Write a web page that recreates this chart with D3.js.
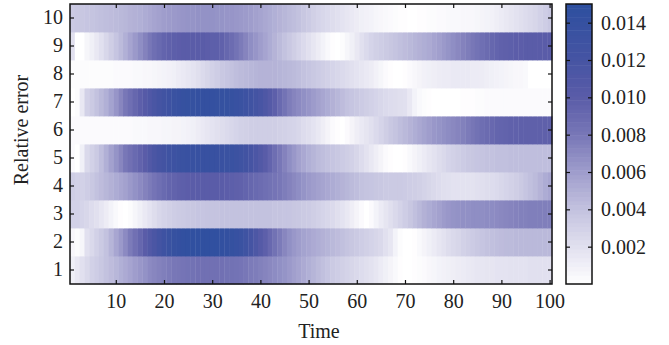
<!DOCTYPE html>
<html>
<head>
<meta charset="utf-8">
<script src="https://cdn.jsdelivr.net/npm/d3@7"></script>
<style>
  body { margin: 0; background: #fff; }
  svg { display: block; }
  .axis text { font-family: "Liberation Serif", "DejaVu Serif", serif; font-size: 20px; fill: #222; }
  .label { font-family: "Liberation Serif", "DejaVu Serif", serif; font-size: 20px; fill: #222; }
</style>
</head>
<body>
<svg id="chart" width="669" height="345"></svg>
<script>
// relative error rows (1 at bottom), values in units of 1e-3, time steps 1..100
const rowNames = [1, 2, 3, 4, 5, 6, 7, 8, 9, 10];
const timeSteps = d3.range(1, 101);
const xTicks = [10, 20, 30, 40, 50, 60, 70, 80, 90, 100];
const cbTicks = [2, 4, 6, 8, 10, 12, 14];

const row1 = [1.0,1.5,2.0,2.5,3.0,3.3,3.6,4.0,4.3,4.6, 5.0,5.3,5.6,6.0,6.3,6.6,7.0,7.2,7.4,7.6,
  7.8,8.0,8.1,8.2,8.3,8.4,8.5,8.5,8.5,8.5, 8.5,8.5,8.4,8.4,8.3,8.2,8.0,7.8,7.7,7.5,
  7.3,7.1,6.9,6.7,6.5,6.2,5.9,5.6,5.3,5.0, 4.7,4.4,4.1,3.8,3.5,3.3,3.1,2.9,2.7,2.5,
  2.3,2.1,1.9,1.6,1.3,1.0,0.7,0.4,0.1,0.0, 0.0,0.1,0.2,0.3,0.5,0.6,0.8,0.9,1.0,1.1,
  1.2,1.3,1.4,1.5,1.6,1.6,1.7,1.7,1.8,1.8, 1.8,1.9,1.9,1.9,1.9,2.0,2.0,2.0,2.0,2.0];
const row2 = [0.5,0.2,0.6,2.0,2.5,3.0,3.5,4.0,4.7,5.5, 6.2,7.0,7.8,8.5,9.2,10.0,10.8,11.5,12.3,13.0,
  13.5,13.9,14.2,14.4,14.5,14.6,14.6,14.6,14.6,14.5, 14.5,14.4,14.3,14.1,13.8,13.4,12.8,12.1,11.3,10.5,
  9.8,9.1,8.4,7.8,7.2,6.7,6.3,6.0,5.7,5.5, 5.3,5.1,4.9,4.7,4.5,4.3,4.1,3.9,3.7,3.5,
  3.3,3.1,2.9,2.7,2.5,2.0,1.6,0.8,0.2,0.0, 0.0,0.1,0.4,0.7,1.0,1.3,1.6,1.9,2.2,2.5,
  2.7,3.0,3.2,3.4,3.6,3.8,4.0,4.1,4.2,4.3, 4.4,4.4,4.5,4.5,4.5,4.5,4.5,4.5,4.5,4.5];
const row3 = [3.0,3.0,2.8,2.6,2.3,2.0,1.6,1.2,0.8,0.4, 0.1,0.0,0.2,0.6,1.0,1.4,1.8,2.2,2.6,2.9,
  3.1,3.3,3.4,3.5,3.6,3.7,3.8,3.8,3.9,3.9, 3.9,4.0,4.0,4.0,4.0,4.0,4.0,4.0,4.0,4.0,
  4.0,4.0,3.9,3.9,3.8,3.8,3.7,3.6,3.5,3.4, 3.2,3.0,2.8,2.6,2.4,2.1,1.8,1.5,1.1,0.7,
  0.3,0.0,0.3,0.8,1.3,1.7,2.1,2.5,2.9,3.3, 3.7,4.1,4.5,4.9,5.2,5.5,5.8,6.1,6.3,6.5,
  6.6,6.7,6.7,6.8,6.8,6.8,6.9,6.9,7.0,7.1, 7.2,7.3,7.4,7.5,7.5,7.6,7.6,7.6,7.6,7.6];
const row4 = [3.2,3.0,3.0,3.3,3.6,4.0,4.3,4.6,4.9,5.2, 5.5,5.8,6.2,6.6,7.0,7.4,7.8,8.2,8.6,9.0,
  9.3,9.5,9.7,9.8,9.9,10.0,10.0,10.0,10.0,10.0, 10.0,10.0,9.9,9.8,9.7,9.6,9.4,9.2,9.0,8.8,
  8.6,8.4,8.2,8.0,7.7,7.4,7.1,6.8,6.5,6.2, 6.0,5.8,5.6,5.4,5.2,5.0,4.8,4.6,4.4,4.2,
  4.0,3.9,3.8,3.7,3.6,3.5,3.5,3.5,3.5,3.4, 3.3,3.2,3.1,2.9,2.7,2.5,2.3,2.1,2.0,1.9,
  1.9,1.9,1.9,1.9,2.0,2.1,2.2,2.3,2.4,2.6, 2.8,3.0,3.2,3.5,3.8,4.1,4.4,4.8,5.2,5.5];
const row5 = [0.3,0.0,1.0,2.5,3.0,3.5,4.2,5.0,5.8,6.5, 7.2,8.0,8.5,9.0,9.5,10.0,10.8,11.5,12.0,12.4,
  12.8,13.1,13.3,13.5,13.6,13.7,13.7,13.7,13.7,13.7, 13.6,13.6,13.5,13.4,13.2,12.9,12.5,12.0,11.4,10.8,
  10.1,9.4,8.7,8.0,7.4,6.8,6.3,5.8,5.4,5.0, 4.7,4.4,4.2,4.0,3.8,3.6,3.4,3.2,3.0,2.7,
  2.3,1.9,1.5,1.1,0.7,0.3,0.1,0.0,0.0,0.1, 0.4,0.7,1.0,1.3,1.6,1.9,2.2,2.5,2.8,3.0,
  3.2,3.4,3.6,3.7,3.8,3.9,4.0,4.0,4.1,4.1, 4.1,4.2,4.2,4.2,4.2,4.2,4.2,4.2,4.2,4.2];
const row6 = [0.3,0.3,0.3,0.3,0.3,0.3,0.3,0.3,0.3,0.3, 0.3,0.3,0.3,0.4,0.4,0.4,0.5,0.5,0.5,0.6,
  0.6,0.7,0.7,0.8,0.9,1.0,1.2,1.4,1.6,1.8, 2.0,2.2,2.4,2.6,2.8,3.0,3.1,3.2,3.2,3.2,
  3.2,3.2,3.2,3.1,3.0,2.9,2.8,2.6,2.3,2.1, 1.8,1.5,1.1,0.7,0.3,0.1,0.0,0.3,0.7,1.1,
  1.4,1.7,2.0,2.4,2.8,3.2,3.6,3.9,4.2,4.5, 4.8,5.1,5.4,5.7,6.0,6.3,6.5,6.7,6.9,7.1,
  7.3,7.5,7.8,8.1,8.4,8.7,8.9,9.1,9.3,9.4, 9.5,9.6,9.6,9.7,9.7,9.7,9.7,9.7,9.7,9.7];
const row7 = [0.0,0.2,1.5,3.0,3.5,4.0,4.5,5.0,5.7,6.4, 7.2,8.0,8.6,9.2,9.8,10.4,11.0,11.6,12.1,12.6,
  13.0,13.4,13.7,13.9,14.0,14.1,14.2,14.2,14.2,14.2, 14.1,14.1,14.0,13.9,13.7,13.4,13.1,12.7,12.3,11.8,
  11.2,10.5,9.8,9.0,8.3,7.7,7.3,7.0,6.7,6.4, 6.1,5.8,5.5,5.2,4.9,4.6,4.3,4.0,3.8,3.6,
  3.4,3.2,3.0,2.8,2.6,2.4,2.3,2.2,2.1,2.0, 1.5,0.8,0.4,0.2,0.1,0.0,0.0,0.0,0.0,0.0,
  0.0,0.1,0.1,0.1,0.2,0.2,0.3,0.3,0.3,0.3, 0.3,0.3,0.3,0.3,0.3,0.3,0.3,0.3,0.3,0.3];
const row8 = [0.2,0.2,0.2,0.2,0.2,0.2,0.2,0.2,0.2,0.3, 0.3,0.3,0.3,0.4,0.4,0.5,0.5,0.6,0.7,0.8,
  0.9,1.0,1.2,1.4,1.6,1.8,2.1,2.4,2.7,3.0, 3.3,3.6,3.8,4.0,4.2,4.4,4.5,4.6,4.7,4.8,
  4.8,4.8,4.8,4.7,4.6,4.5,4.4,4.2,4.0,3.8, 3.6,3.4,3.2,3.0,2.8,2.6,2.4,2.2,2.0,1.8,
  1.6,1.4,1.2,0.9,0.6,0.3,0.1,0.0,0.0,0.1, 0.3,0.5,0.7,0.9,1.0,1.1,1.2,1.3,1.3,1.4,
  1.4,1.4,1.4,1.3,1.3,1.2,1.1,1.0,0.9,0.8, 0.7,0.6,0.5,0.5,0.4,0.0,0.0,0.0,0.0,0.0];
const row9 = [2.0,0.0,0.0,0.6,1.0,1.5,2.0,2.6,3.2,3.8, 4.4,5.0,5.6,6.2,6.8,7.4,8.0,8.6,9.0,9.4,
  9.6,9.8,9.9,10.0,10.0,10.0,10.0,10.0,9.9,9.8, 9.8,9.6,9.2,8.8,8.3,7.8,7.3,6.8,6.4,6.0,
  5.6,5.2,4.8,4.4,4.0,3.6,3.2,2.8,2.4,2.0, 1.6,1.2,0.8,0.4,0.1,0.0,0.2,0.6,1.0,1.5,
  2.0,2.4,2.8,3.1,3.3,3.5,3.7,3.9,4.1,4.3, 4.5,4.7,4.9,5.1,5.3,5.6,5.9,6.2,6.5,6.8,
  7.1,7.4,7.7,8.0,8.3,8.6,8.9,9.2,9.4,9.6, 9.7,9.8,9.9,9.9,10.0,10.0,10.0,10.0,10.0,10.0];
const row10 = [3.5,3.6,3.7,3.8,3.9,4.0,4.1,4.2,4.3,4.4, 4.5,4.6,4.8,4.9,5.0,5.2,5.4,5.6,5.8,6.0,
  6.1,6.2,6.3,6.4,6.5,6.5,6.6,6.6,6.6,6.6, 6.5,6.5,6.4,6.4,6.3,6.2,6.1,6.0,5.8,5.6,
  5.4,5.2,5.0,4.8,4.6,4.4,4.2,4.0,3.7,3.4, 3.1,2.8,2.6,2.4,2.2,2.0,1.8,1.6,1.4,1.2,
  1.0,0.9,0.8,0.6,0.5,0.4,0.3,0.2,0.1,0.1, 0.0,0.0,0.1,0.1,0.2,0.2,0.3,0.3,0.4,0.4,
  0.4,0.5,0.5,0.5,0.6,0.7,0.8,0.9,1.1,1.3, 1.5,1.7,1.9,2.1,2.3,2.5,2.7,3.0,3.3,3.6];
const rows = [row1, row2, row3, row4, row5, row6, row7, row8, row9, row10];

const svg = d3.select("#chart");
const margin = {left: 70, top: 4, right: 117, bottom: 61};
const W = 669, H = 345;
const plotR = W - margin.right, plotB = H - margin.bottom;

const x = d3.scaleLinear().domain([0.5, 100.5]).range([margin.left, plotR]);
const y = d3.scaleBand().domain(rowNames.slice().reverse()).range([margin.top, plotB]);

const colorStops = [0, 2, 4, 6, 8, 10, 12, 15];
const colorVals = ["#ffffff", "#e1e0ef", "#c3c2df", "#9f9dcc", "#7877b7", "#5a5ca8", "#4654a3", "#2d4f9f"];
const color = d3.scaleLinear().domain(colorStops).range(colorVals).interpolate(d3.interpolateRgb).clamp(true);

const cells = [];
rows.forEach((r, i) => r.forEach((v, j) => cells.push({row: rowNames[i], t: timeSteps[j], v: v})));

svg.append("g").selectAll("rect").data(cells).enter().append("rect")
  .attr("x", d => x(d.t - 0.5))
  .attr("y", d => y(d.row))
  .attr("width", d => x(d.t + 0.5) - x(d.t - 0.5) + 0.4)
  .attr("height", y.bandwidth() + 0.4)
  .attr("fill", d => color(d.v));

// axes, ticks point inward
const xb = svg.append("g").attr("class", "axis").attr("transform", `translate(0,${plotB})`)
  .call(d3.axisBottom(x).tickValues(xTicks).tickSizeInner(-4).tickSizeOuter(0).tickPadding(10));
const xt = svg.append("g").attr("class", "axis").attr("transform", `translate(0,${margin.top})`)
  .call(d3.axisTop(x).tickValues(xTicks).tickSizeInner(-4).tickSizeOuter(0).tickFormat(""));
const yl = svg.append("g").attr("class", "axis").attr("transform", `translate(${margin.left},0)`)
  .call(d3.axisLeft(y).tickSizeInner(-4).tickSizeOuter(0).tickPadding(7));
const yr = svg.append("g").attr("class", "axis").attr("transform", `translate(${plotR},0)`)
  .call(d3.axisRight(y).tickSizeInner(-4).tickSizeOuter(0).tickFormat(""));
[xb, xt, yl, yr].forEach(g => {
  g.select(".domain").remove();
  g.selectAll(".tick line").attr("stroke", "#111").attr("stroke-width", 1.2);
});

svg.append("rect")
  .attr("x", margin.left).attr("y", margin.top)
  .attr("width", plotR - margin.left).attr("height", plotB - margin.top)
  .attr("fill", "none").attr("stroke", "#111").attr("stroke-width", 1.5);

// colour bar
const cbX = 566, cbW = 26;
const cb = d3.scaleLinear().domain([0, 15]).range([plotB, margin.top]);
const steps = d3.range(0, 64);
svg.append("g").selectAll("rect").data(steps).enter().append("rect")
  .attr("x", cbX)
  .attr("y", i => cb((i + 1) * 15 / 64))
  .attr("width", cbW)
  .attr("height", i => cb(i * 15 / 64) - cb((i + 1) * 15 / 64) + 0.5)
  .attr("fill", i => color((i + 0.5) * 15 / 64));

const cbl = svg.append("g").attr("class", "axis").attr("transform", `translate(${cbX},0)`)
  .call(d3.axisLeft(cb).tickValues(cbTicks).tickSizeInner(-4).tickSizeOuter(0).tickFormat(""));
const cbr = svg.append("g").attr("class", "axis").attr("transform", `translate(${cbX + cbW},0)`)
  .call(d3.axisRight(cb).tickValues(cbTicks).tickSizeInner(-4).tickSizeOuter(0).tickPadding(9)
    .tickFormat(d => (d / 1000).toFixed(3)));
[cbl, cbr].forEach(g => {
  g.select(".domain").remove();
  g.selectAll(".tick line").attr("stroke", "#111").attr("stroke-width", 1.2);
});
svg.append("rect")
  .attr("x", cbX).attr("y", margin.top)
  .attr("width", cbW).attr("height", plotB - margin.top)
  .attr("fill", "none").attr("stroke", "#111").attr("stroke-width", 1.5);

svg.append("text").attr("class", "label")
  .attr("x", 319).attr("y", 338)
  .attr("text-anchor", "middle").text("Time");
svg.append("text").attr("class", "label")
  .attr("transform", "translate(28,130) rotate(-90)")
  .attr("text-anchor", "middle").text("Relative error");
</script>
</body>
</html>
